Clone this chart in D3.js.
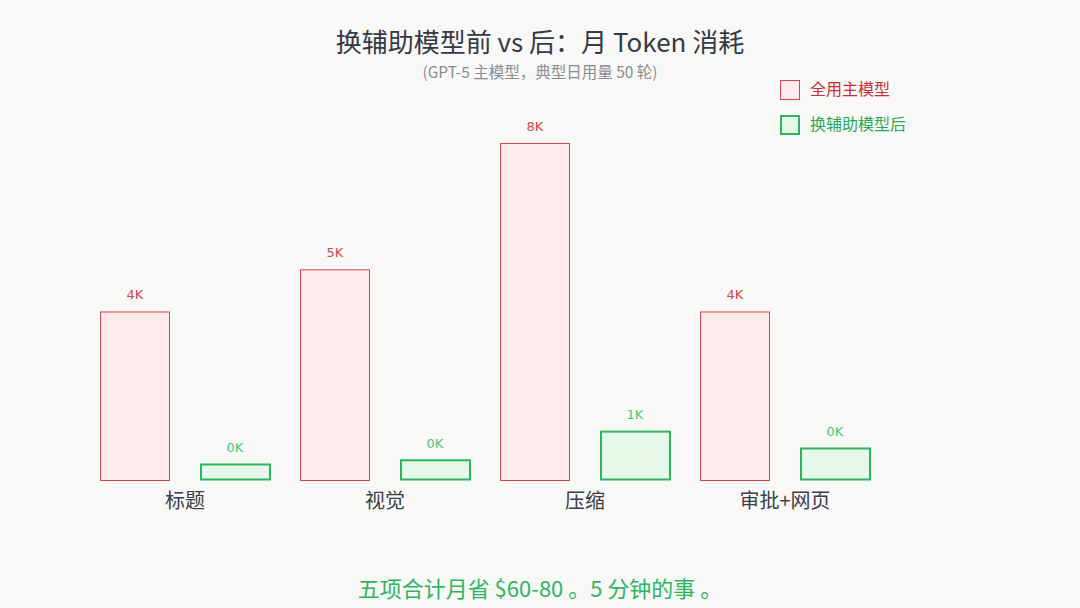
<!DOCTYPE html>
<html><head><meta charset="utf-8">
<script src="https://cdn.jsdelivr.net/npm/d3@7/dist/d3.min.js"></script>
<style>
html,body{margin:0;padding:0;background:#f8f8f6;}
svg{display:block;font-family:"Noto Sans CJK SC","Noto Sans",sans-serif;}
</style></head>
<body>
<svg id="c" width="1080" height="608"></svg>
<script>
const categories = ["标题", "视觉", "压缩", "审批+网页"];
const seriesNames = ["全用主模型", "换辅助模型后"];
const fullMain = [4000, 5000, 8000, 4000];
const withHelper = [380, 480, 1160, 760];
const titleText = "换辅助模型前 vs 后：月 Token 消耗";
const subtitleText = "(GPT-5 主模型，典型日用量 50 轮)";
const footerText = "五项合计月省 $60-80 。5 分钟的事 。";

const svg = d3.select("#c");
svg.append("rect").attr("width",1080).attr("height",608).attr("fill","#f8f8f6");

const styles = [
  {fill:"#ffebeb", stroke:"#c9474f", sw:1, text:"#c0323b", label:"#c94a4f"},
  {fill:"#e5f8ea", stroke:"#2db660", sw:2, text:"#2aa85a", label:"#4cc47a"}
];

const x0 = d3.scaleBand().domain(categories).range([85, 885]);
const x1 = d3.scaleBand().domain([0,1]).range([0, x0.bandwidth()]).paddingInner(0.3).paddingOuter(0.15);
const y = d3.scaleLinear().domain([0, 9200]).range([480, 92.4]);

const data = categories.map((c,i)=>({cat:c, vals:[fullMain[i], withHelper[i]]}));

const g = svg.append("g");
const groups = g.selectAll("g.grp").data(data).join("g")
  .attr("transform", d=>`translate(${x0(d.cat)},0)`);

groups.selectAll("rect").data(d=>d.vals.map((v,k)=>({v,k}))).join("rect")
  .attr("x", d=>x1(d.k) + (d.k===1?1:0.5))
  .attr("y", d=>y(d.v) + 0.5)
  .attr("width", d=>x1.bandwidth() - 1)
  .attr("height", d=>y(0)-y(d.v) - (d.k===1?1:0))
  .attr("fill", d=>styles[d.k].fill)
  .attr("stroke", d=>styles[d.k].stroke)
  .attr("stroke-width", d=>styles[d.k].sw);

groups.selectAll("text.val").data(d=>d.vals.map((v,k)=>({v,k}))).join("text")
  .attr("class","val")
  .attr("x", d=>x1(d.k)+x1.bandwidth()/2)
  .attr("y", d=>y(d.v)-12)
  .attr("text-anchor","middle")
  .attr("font-size",13)
  .attr("font-family","'DejaVu Sans',sans-serif")
  .attr("fill", d=>styles[d.k].label)
  .text(d=>Math.floor(d.v/1000)+"K");

// category axis labels
const xAxis = d3.axisBottom(x0).tickSize(0).tickPadding(0);
const ax = svg.append("g").attr("transform","translate(0,491)").call(xAxis);
ax.select(".domain").remove();
ax.selectAll("text")
  .attr("font-size",20)
  .attr("fill","#3a3f4a")
  .attr("font-family","'Noto Sans CJK SC',sans-serif")
  .attr("dy","0.85em");

// title
svg.append("text").attr("x",540).attr("y",52).attr("text-anchor","middle")
  .attr("font-size",26).attr("fill","#353a45").text(titleText);
svg.append("text").attr("x",540).attr("y",78).attr("text-anchor","middle")
  .attr("font-size",15.5).attr("fill","#8a8d92").text(subtitleText);

// legend
const leg = svg.append("g").attr("transform","translate(780,80)");
seriesNames.forEach((s,k)=>{
  const row = leg.append("g").attr("transform",`translate(0,${k*35})`);
  row.append("rect").attr("x",0.5 + (k===1?0.5:0)).attr("y",0.5+(k===1?0.5:0))
    .attr("width",19-(k===1?1:0)).attr("height",19-(k===1?1:0))
    .attr("fill",styles[k].fill).attr("stroke",styles[k].stroke).attr("stroke-width",styles[k].sw);
  row.append("text").attr("x",30).attr("y",14.5).attr("font-size",16)
    .attr("fill",styles[k].text).text(s);
});

// footer
svg.append("text").attr("x",540).attr("y",597).attr("text-anchor","middle")
  .attr("font-size",22).attr("fill","#2fb463").text(footerText);
</script>
</body></html>
